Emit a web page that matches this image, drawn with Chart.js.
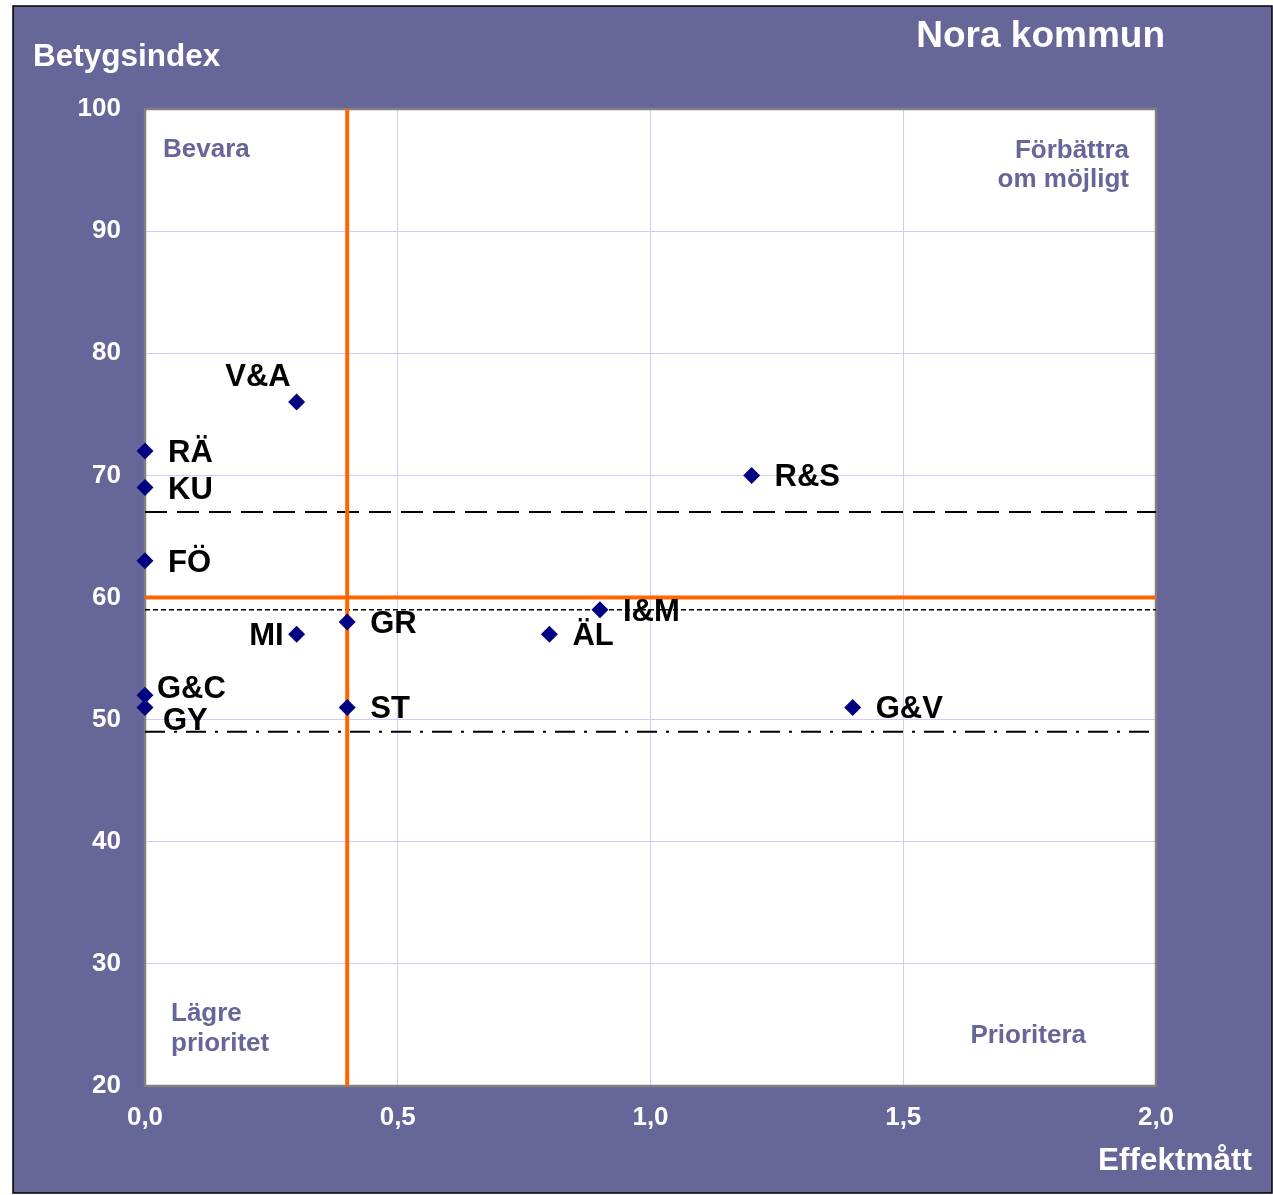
<!DOCTYPE html>
<html>
<head>
<meta charset="utf-8">
<script src="https://cdn.jsdelivr.net/npm/chart.js@4/dist/chart.umd.min.js"></script>
<style>
  html, body { margin: 0; padding: 0; background: #ffffff; }
  #wrap { width: 1273px; height: 1195px; }
</style>
</head>
<body>
<div id="wrap"><canvas id="c" width="1273" height="1195"></canvas></div>
<script>
// ---- Data ----
const categories = ['V&A', 'RÄ', 'KU', 'FÖ', 'MI', 'GR', 'G&C', 'GY', 'ST', 'ÄL', 'I&M', 'R&S', 'G&V'];
const effektmatt = [0.3, 0, 0, 0, 0.3, 0.4, 0, 0, 0.4, 0.8, 0.9, 1.2, 1.4];
const betygsindex = [76, 72, 69, 63, 57, 58, 52, 51, 51, 57, 59, 70, 51];

const xRange = [0, 2];
const yRange = [20, 100];
const xStep = 0.5;
const yStep = 10;

const refEffekt = 0.4;     // vertical orange line
const refBetyg = 60;       // horizontal orange line
const longDashLevel = 67;
const shortDashLevel = 59;
const dashDotLevel = 49;

const titleText = 'Nora kommun';
const yTitle = 'Betygsindex';
const xTitle = 'Effektmått';
const quadrantTexts = {
  topLeft: ['Bevara'],
  topRight: ['Förbättra', 'om möjligt'],
  bottomLeft: ['Lägre', 'prioritet'],
  bottomRight: ['Prioritera']
};

// label placement style (not data)
const labelPlacement = { 'V&A': 'above', 'MI': 'left', 'G&C': 'upRight', 'GY': 'downRight' };

const FONT = '"Liberation Sans", Arial, sans-serif';
const PURPLE = '#666699';

const points = categories.map((c, i) => ({ x: effektmatt[i], y: betygsindex[i] }));

const hLine = (lvl) => [{ x: xRange[0], y: lvl }, { x: xRange[1], y: lvl }];

const framePlugin = {
  id: 'frame',
  beforeDraw(chart) {
    const ctx = chart.ctx, a = chart.chartArea;
    ctx.save();
    ctx.fillStyle = '#ffffff';
    ctx.fillRect(0, 0, chart.width, chart.height);
    ctx.fillStyle = PURPLE;
    ctx.fillRect(13, 6, 1259, 1187);
    ctx.strokeStyle = '#000000';
    ctx.lineWidth = 1.5;
    ctx.strokeRect(13, 6, 1259, 1187);
    ctx.fillStyle = '#ffffff';
    ctx.fillRect(a.left, a.top, a.right - a.left, a.bottom - a.top);
    ctx.restore();
  },
  beforeDatasetsDraw(chart) {
    const ctx = chart.ctx, a = chart.chartArea;
    ctx.save();
    ctx.strokeStyle = '#808080';
    ctx.lineWidth = 2.5;
    ctx.strokeRect(a.left, a.top, a.right - a.left, a.bottom - a.top);
    // quadrant texts
    ctx.fillStyle = PURPLE;
    ctx.font = 'bold 26px ' + FONT;
    ctx.textBaseline = 'alphabetic';
    ctx.textAlign = 'left';
    quadrantTexts.topLeft.forEach((t, i) => ctx.fillText(t, a.left + 18, a.top + 48 + i * 29));
    ctx.textAlign = 'right';
    quadrantTexts.topRight.forEach((t, i) => ctx.fillText(t, a.right - 27, a.top + 49 + i * 29));
    ctx.textAlign = 'left';
    quadrantTexts.bottomLeft.forEach((t, i) => ctx.fillText(t, a.left + 26, a.bottom - 65 + i * 30));
    ctx.textAlign = 'right';
    quadrantTexts.bottomRight.forEach((t, i) => ctx.fillText(t, a.right - 70, a.bottom - 43 + i * 30));
    ctx.restore();
  },
  afterDatasetsDraw(chart) {
    const ctx = chart.ctx;
    const meta = chart.getDatasetMeta(0);
    ctx.save();
    ctx.fillStyle = '#000000';
    ctx.font = 'bold 31px ' + FONT;
    ctx.textBaseline = 'alphabetic';
    meta.data.forEach((el, i) => {
      const name = categories[i];
      const p = labelPlacement[name];
      let x = el.x + 23, y = el.y + 11, align = 'left';
      if (p === 'above') { x = el.x - 6; y = el.y - 16; align = 'right'; }
      else if (p === 'left') { x = el.x - 13; align = 'right'; }
      else if (p === 'upRight') { x = el.x + 12; y = el.y + 3; }
      else if (p === 'downRight') { x = el.x + 18; y = el.y + 23; }
      ctx.textAlign = align;
      ctx.fillText(name, x, y);
    });
    ctx.restore();
  },
  afterDraw(chart) {
    const ctx = chart.ctx;
    ctx.save();
    ctx.fillStyle = '#ffffff';
    ctx.textBaseline = 'alphabetic';
    ctx.font = 'bold 31.5px ' + FONT;
    ctx.textAlign = 'left';
    ctx.fillText(yTitle, 33, 66);
    ctx.font = 'bold 37px ' + FONT;
    ctx.textAlign = 'right';
    ctx.fillText(titleText, 1165, 47);
    ctx.font = 'bold 31.5px ' + FONT;
    ctx.textAlign = 'right';
    ctx.fillText(xTitle, 1252, 1170);
    ctx.restore();
  }
};

new Chart(document.getElementById('c'), {
  type: 'scatter',
  data: {
    datasets: [
      {
        label: 'Verksamheter',
        data: points,
        pointStyle: 'rectRot',
        pointRadius: 8.5,
        pointHoverRadius: 8.5,
        backgroundColor: '#000080',
        borderColor: '#000080',
        borderWidth: 0,
        clip: false,
        order: 0
      },
      {
        label: 'long dash',
        type: 'line',
        data: hLine(longDashLevel),
        borderColor: '#000000',
        borderWidth: 2,
        borderDash: [22, 10],
        pointRadius: 0,
        order: 2
      },
      {
        label: 'short dash',
        type: 'line',
        data: hLine(shortDashLevel),
        borderColor: '#000000',
        borderWidth: 1.5,
        borderDash: [5, 3],
        pointRadius: 0,
        order: 2
      },
      {
        label: 'dash dot',
        type: 'line',
        data: hLine(dashDotLevel),
        borderColor: '#000000',
        borderWidth: 2,
        borderDash: [20, 9, 3, 9],
        pointRadius: 0,
        order: 2
      },
      {
        label: 'orange h',
        type: 'line',
        data: hLine(refBetyg),
        borderColor: '#FF6600',
        borderWidth: 4,
        pointRadius: 0,
        order: 1
      },
      {
        label: 'orange v',
        type: 'line',
        data: [{ x: refEffekt, y: yRange[0] }, { x: refEffekt, y: yRange[1] }],
        borderColor: '#FF6600',
        borderWidth: 4,
        pointRadius: 0,
        order: 1
      }
    ]
  },
  options: {
    responsive: false,
    animation: false,
    devicePixelRatio: 1,
    layout: { padding: { top: 109, right: 117, left: 0, bottom: 0 } },
    plugins: {
      legend: { display: false },
      tooltip: { enabled: false },
      title: { display: false }
    },
    scales: {
      x: {
        type: 'linear',
        min: xRange[0],
        max: xRange[1],
        afterFit(scale) { scale.height = 109; },
        grid: { color: '#ccccff', lineWidth: 1, drawTicks: false },
        border: { display: false },
        ticks: {
          stepSize: xStep,
          padding: 16,
          color: '#ffffff',
          font: { family: FONT, size: 26, weight: 'bold' },
          callback: (v) => v.toFixed(1).replace('.', ',')
        }
      },
      y: {
        type: 'linear',
        min: yRange[0],
        max: yRange[1],
        afterFit(scale) { scale.width = 145; },
        grid: { color: '#ccccff', lineWidth: 1, drawTicks: false },
        border: { display: false },
        ticks: {
          stepSize: yStep,
          padding: 24,
          color: '#ffffff',
          font: { family: FONT, size: 26, weight: 'bold' }
        }
      }
    }
  },
  plugins: [framePlugin]
});
</script>
</body>
</html>
